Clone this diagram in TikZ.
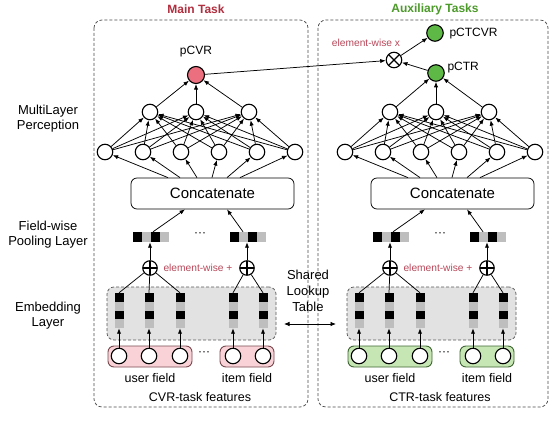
\documentclass[tikz,border=0pt]{standalone}
\usepackage{fontspec}
\setmainfont{Liberation Sans}
\usetikzlibrary{arrows.meta,calc}
\definecolor{redtitle}{HTML}{B02E3E}
\definecolor{greentitle}{HTML}{4C9A2A}
\definecolor{ewred}{HTML}{B8485A}
\definecolor{pinkfill}{HTML}{F8D2D7}
\definecolor{pinkdraw}{HTML}{7A4A50}
\definecolor{greenfill}{HTML}{C6E6B4}
\definecolor{greendraw}{HTML}{3F6633}
\definecolor{redcirc}{HTML}{EB6F7E}
\definecolor{greencirc}{HTML}{5DB845}
\definecolor{embfill}{HTML}{E2E2E2}
\definecolor{cellgray}{HTML}{BEBEBE}
\newcommand\hcells[2]{%
  \fill[black] (#1-18,#2-5) rectangle (#1-9,#2+5);
  \fill[cellgray] (#1-9,#2-5) rectangle (#1,#2+5);
  \fill[black] (#1,#2-5) rectangle (#1+9,#2+5);
  \fill[cellgray] (#1+9,#2-5) rectangle (#1+18,#2+5);}
\newcommand\vcells[2]{%
  \fill[black] (#1-4.5,#2-17.5) rectangle (#1+4.5,#2-8.5);
  \fill[cellgray] (#1-4.5,#2-8.5) rectangle (#1+4.5,#2);
  \fill[black] (#1-4.5,#2) rectangle (#1+4.5,#2+8.5);
  \fill[cellgray] (#1-4.5,#2+8.5) rectangle (#1+4.5,#2+17.5);}
\newcommand\drawtower[4]{% #1 prefix, #2 field fill, #3 field draw, #4 caption
  \node[embbox] (#1emb) at (191.5,313.5) {};
  \node[fieldbox,fill=#2,draw=#3,minimum width=84pt] (#1uf) at (150,356.5) {};
  \node[fieldbox,fill=#2,draw=#3,minimum width=54pt] (#1if) at (247,356.5) {};
  \foreach \x [count=\i] in {119,149,180,233,263} {
    \vcells{\x}{310.5}
    \node[vecnode,minimum width=9pt,minimum height=35pt] (#1c\i) at (\x,310.5) {};
    \node[neuron] (#1f\i) at (\x,356) {};
    \draw[arr] (#1f\i) -- (#1c\i.south);
  }
  \node (#1fd) at (204,354) {···};
  \node[lab] (#1ul) at (150,378) {user field};
  \node[lab] (#1il) at (247,378) {item field};
  \node[lab] (#1cap) at (200,397) {#4};
  \node[oplus] (#1o1) at (150,268) {};
  \node[oplus] (#1o2) at (247,268) {};
  \node[ewtext] (#1ew) at (198,268) {element-wise +};
  \foreach \i in {1,2,3} \draw[line] (#1o1) -- (#1c\i.north);
  \foreach \i in {4,5} \draw[line] (#1o2) -- (#1c\i.north);
  \hcells{150.5}{237}
  \hcells{247.5}{237}
  \node[vecnode,minimum width=36pt,minimum height=10pt] (#1p1) at (150.5,237) {};
  \node[vecnode,minimum width=36pt,minimum height=10pt] (#1p2) at (247.5,237) {};
  \node (#1pd) at (200,235) {···};
  \draw[arr] (#1o1) -- (#1p1.south -| #1o1);
  \draw[arr] (#1o2) -- (#1p2.south -| #1o2);
  \node[concat] (#1cat) at (212.5,193.5) {Concatenate};
  \draw[arr] ([xshift=2.5pt]#1p1.north) -- ([xshift=-27.5pt]#1cat.south);
  \draw[arr] ([xshift=-4.5pt]#1p2.north) -- ([xshift=14.5pt]#1cat.south);
  \foreach \x [count=\i] in {105,143,181,219,257,295}
    \node[neuron] (#1a\i) at (\x,152) {};
  \foreach \x [count=\i] in {150,196,249}
    \node[neuron] (#1b\i) at (\x,112) {};
  \foreach \i in {1,...,6} \foreach \j in {1,2,3} \draw[arr] (#1a\i) -- (#1b\j);
  \foreach \d [count=\i] in {-44.5,-32.5,-15.5,-0.5,14.5,27.5}
    \draw[arr] ([xshift=\d pt]#1cat.north) -- (#1a\i);
}
\begin{document}
\begin{tikzpicture}[x=1pt,y=-1pt,
  every node/.style={font=\fontsize{12}{14}\selectfont},
  lab/.style={font=\fontsize{12.5}{14}\selectfont},
  neuron/.style={circle,draw,line width=1.1pt,minimum size=15.5pt,inner sep=0pt,fill=white},
  oplus/.style={circle,draw,line width=1.1pt,minimum size=14.5pt,inner sep=0pt,fill=white,
    path picture={\draw[line width=1.1pt] (path picture bounding box.north) -- (path picture bounding box.south)
      (path picture bounding box.west) -- (path picture bounding box.east);}},
  otimes/.style={circle,draw,line width=1.1pt,minimum size=15.5pt,inner sep=0pt,fill=white,
    path picture={\draw[line width=1.1pt] (path picture bounding box.north west) -- (path picture bounding box.south east)
      (path picture bounding box.south west) -- (path picture bounding box.north east);}},
  arr/.style={-{Latex[length=5.5pt,width=4.2pt]},line width=0.75pt},
  line/.style={line width=0.75pt},
  dashbox/.style={draw=black!70,dash pattern=on 3pt off 2pt,rounded corners=8pt,line width=0.75pt},
  embbox/.style={draw=black!65,fill=embfill,dash pattern=on 3pt off 2pt,rounded corners=7pt,line width=0.75pt,minimum width=169pt,minimum height=53pt,inner sep=0pt},
  fieldbox/.style={rounded corners=6pt,line width=0.9pt,minimum height=21pt,inner sep=0pt},
  vecnode/.style={inner sep=0pt,draw=none},
  concat/.style={draw,rounded corners=6pt,line width=0.75pt,minimum width=163pt,minimum height=31pt,inner sep=0pt,font=\fontsize{15}{17}\selectfont,fill=white},
  ewtext/.style={text=ewred,font=\fontsize{10.2}{12}\selectfont},
  title/.style={font=\bfseries\fontsize{12}{14}\selectfont},
  sidelabel/.style={align=center,font=\fontsize{13}{15}\selectfont}]
\useasboundingbox (0,0) rectangle (554,422);
\fill[white] (0,0) rectangle (554,422);
% containers
\draw[dashbox] (94,20) rectangle (308,407);
\draw[dashbox] (318,20) rectangle (548,407);
\node[title,text=redtitle] (maintitle) at (196,9) {Main Task};
\node[title,text=greentitle] (auxtitle) at (435,9) {Auxiliary Tasks};
% left labels
\node[sidelabel] (mlpl) at (48,118.5) {MultiLayer\\Perception};
\node[sidelabel] (pooll) at (48,234.5) {Field-wise\\Pooling Layer};
\node[sidelabel] (embl) at (48,316) {Embedding\\Layer};
% towers
\drawtower{L}{pinkfill}{pinkdraw}{CVR-task features}
\begin{scope}[xshift=240pt]
\drawtower{R}{greenfill}{greendraw}{CTR-task features}
\end{scope}
% shared lookup
\node[align=center,font=\fontsize{13}{16}\selectfont] (shared) at (308,291) {Shared\\Lookup\\Table};
\coordinate (sl1) at (284,324);
\coordinate (sl2) at (336,324);
\draw[{Latex[length=5.5pt,width=4.5pt]}-{Latex[length=5.5pt,width=4.5pt]},line width=0.8pt] (sl1) -- (sl2);
% outputs
\node[neuron,fill=redcirc,minimum size=17pt] (pcvr) at (196,75) {};
\node (pcvrl) at (196,52) {pCVR};
\foreach \j in {1,2,3} \draw[arr] (Lb\j) -- (pcvr);
\node[neuron,fill=greencirc,minimum size=16.5pt] (pctr) at (436,73) {};
\node[anchor=west] (pctrl) at (444,68) {pCTR};
\foreach \j in {1,2,3} \draw[arr] (Rb\j) -- (pctr);
\node[neuron,fill=greencirc,minimum size=16.5pt] (pctcvr) at (435,33) {};
\node[anchor=west] (pctcvrl) at (446,34) {pCTCVR};
\node[otimes] (otimes) at (394,60) {};
\node[ewtext] (ewx) at (366,43) {element-wise x};
\draw[arr] (pcvr) -- (otimes);
\draw[arr] (pctr) -- (otimes);
\draw[arr] (otimes) -- (pctcvr);
\end{tikzpicture}
\end{document}
